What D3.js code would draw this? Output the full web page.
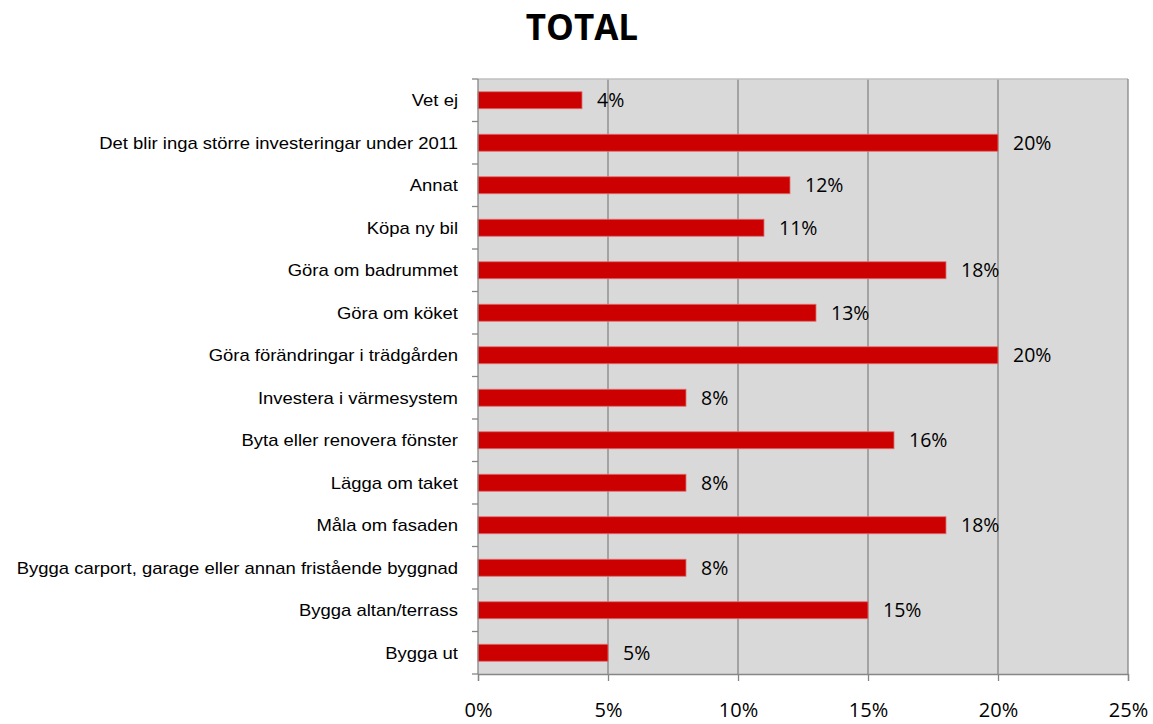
<!DOCTYPE html>
<html><head><meta charset="utf-8">
<script src="https://cdn.jsdelivr.net/npm/d3@7"></script>
<style>html,body{margin:0;padding:0;background:#fff;}svg{display:block;}</style>
</head><body>
<svg id="chart" width="1153" height="724"></svg>
<script>
const title = "TOTAL";
const categories = [
  "Vet ej",
  "Det blir inga större investeringar under 2011",
  "Annat",
  "Köpa ny bil",
  "Göra om badrummet",
  "Göra om köket",
  "Göra förändringar i trädgården",
  "Investera i värmesystem",
  "Byta eller renovera fönster",
  "Lägga om taket",
  "Måla om fasaden",
  "Bygga carport, garage eller annan fristående byggnad",
  "Bygga altan/terrass",
  "Bygga ut"
];
const values = [4, 20, 12, 11, 18, 13, 20, 8, 16, 8, 18, 8, 15, 5];
const xTicks = [0, 5, 10, 15, 20, 25];

const svg = d3.select("#chart");
const m = {left: 478, top: 79};
const pw = 650, ph = 595;

const x = d3.scaleLinear().domain([0, 25]).range([m.left, m.left + pw]);
const y = d3.scaleBand().domain(categories).range([m.top, m.top + ph]).paddingInner(0.6).paddingOuter(0.3);

// plot background
svg.append("rect").attr("x", m.left).attr("y", m.top).attr("width", pw).attr("height", ph).attr("fill", "#D9D9D9");

// gridlines
svg.append("g").selectAll("line").data(xTicks.filter(d => d > 0 && d < 25)).join("line")
  .attr("x1", d => x(d)).attr("x2", d => x(d))
  .attr("y1", m.top).attr("y2", m.top + ph)
  .attr("stroke", "#868686").attr("stroke-width", 1.3);

// border top/right
svg.append("line").attr("x1", m.left).attr("x2", m.left + pw).attr("y1", m.top).attr("y2", m.top)
  .attr("stroke", "#BFBFBF").attr("stroke-width", 1.3);
svg.append("line").attr("x1", m.left + pw).attr("x2", m.left + pw).attr("y1", m.top).attr("y2", m.top + ph)
  .attr("stroke", "#868686").attr("stroke-width", 1.3);

// bars
svg.append("g").selectAll("rect").data(values).join("rect")
  .attr("x", x(0))
  .attr("y", (d, i) => y(categories[i]))
  .attr("width", d => x(d) - x(0))
  .attr("height", y.bandwidth())
  .attr("fill", "#CC0000")
  .attr("stroke", "#E07070").attr("stroke-width", 0.8);

// data labels
svg.append("g").selectAll("text").data(values).join("text")
  .attr("x", d => x(d) + 15)
  .attr("y", (d, i) => y(categories[i]) + y.bandwidth() / 2)
  .attr("dy", "0.36em")
  .attr("font-family", "'Open Sans', sans-serif")
  .attr("font-size", 19.5)
  .attr("fill", "#000")
  .text(d => d + "%");

// y axis line + ticks
const step = y.step();
svg.append("line").attr("x1", m.left).attr("x2", m.left).attr("y1", m.top).attr("y2", m.top + ph)
  .attr("stroke", "#868686").attr("stroke-width", 1.3);
svg.append("g").selectAll("line").data(d3.range(categories.length + 1)).join("line")
  .attr("x1", m.left - 6).attr("x2", m.left)
  .attr("y1", i => m.top + i * step).attr("y2", i => m.top + i * step)
  .attr("stroke", "#868686").attr("stroke-width", 1.3);

// category labels (horizontally stretched like the reference)
svg.append("g").selectAll("text").data(categories).join("text")
  .attr("transform", d => `translate(${m.left - 20},${y(d) + y.bandwidth() / 2}) scale(1.155,1)`)
  .attr("dy", "0.36em")
  .attr("text-anchor", "end")
  .attr("font-family", "'Liberation Sans', Arial, sans-serif")
  .attr("font-size", 16)
  .attr("fill", "#000")
  .text(d => d);

// x axis
const xAxis = d3.axisBottom(x).tickValues(xTicks).tickFormat(d => d + "%").tickSize(7).tickPadding(22);
const gx = svg.append("g").attr("transform", `translate(0,${m.top + ph})`).call(xAxis);
gx.select(".domain").attr("stroke", "#868686").attr("stroke-width", 1.3);
gx.selectAll(".tick line").attr("stroke", "#868686").attr("stroke-width", 1.3);
gx.selectAll(".tick text").attr("font-family", "'Open Sans', sans-serif").attr("font-size", 20).attr("fill", "#000");

// title
svg.append("text").attr("x", 582).attr("y", 40).attr("text-anchor", "middle")
  .attr("font-family", "'Open Sans', sans-serif").attr("font-weight", "bold").attr("font-size", 35)
  .attr("fill", "#000").text(title);
</script>
</body></html>
